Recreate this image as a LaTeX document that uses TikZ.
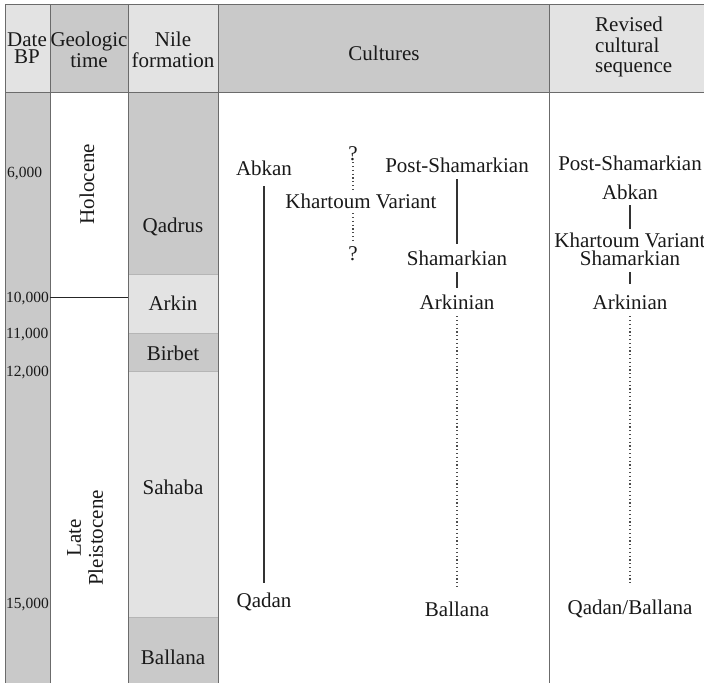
\documentclass[tikz,border=0pt]{standalone}
\usepackage{fontspec}
\setmainfont{Liberation Serif}
\definecolor{darkcell}{gray}{0.79}
\definecolor{lightcell}{gray}{0.89}
\definecolor{rulegray}{gray}{0.42}
\tikzset{
  txt/.style={font=\fontsize{21}{20.5}\selectfont, inner sep=0pt, align=center, text=black!90},
  cult/.style={txt, text height=14pt, text depth=0pt},
  date/.style={font=\fontsize{15.5}{15.5}\selectfont, inner sep=0pt, anchor=base west, text=black!90},
  link/.style={line width=1.1pt, black!80, shorten <=7pt, shorten >=7pt},
  maybe/.style={line width=1.3pt, black!70, dash pattern=on 1.1pt off 2.7pt, shorten <=7pt, shorten >=7pt},
}

\begin{document}
\begin{tikzpicture}[x=1pt, y=-1pt]
\useasboundingbox (0,0) rectangle (704,683);

\fill[lightcell] (5,4) rectangle (50,92);
\fill[darkcell] (50,4) rectangle (128,92);
\fill[lightcell] (128,4) rectangle (218,92);
\fill[darkcell] (218,4) rectangle (549,92);
\fill[lightcell] (549,4) rectangle (704,92);
\fill[darkcell] (5,92) rectangle (50,683);
\fill[darkcell] (128,92) rectangle (218,274);
\fill[lightcell] (128,274) rectangle (218,333);
\fill[darkcell] (128,333) rectangle (218,371);
\fill[lightcell] (128,371) rectangle (218,617);
\fill[darkcell] (128,617) rectangle (218,683);
\draw[rulegray!50] (128,274) -- (218,274);
\draw[rulegray!50] (128,333) -- (218,333);
\draw[rulegray!50] (128,371) -- (218,371);
\draw[rulegray!50] (128,617) -- (218,617);
\draw[rulegray] (5,4) -- (704,4);
\draw[rulegray] (5,92) -- (704,92);
\draw[rulegray] (5,4) -- (5,683);
\draw[rulegray] (50,4) -- (50,683);
\draw[rulegray] (128,4) -- (128,683);
\draw[rulegray] (218,4) -- (218,683);
\draw[rulegray] (549,4) -- (549,683);
\draw[line width=1pt, black!85] (50,297) -- (128,297);

\node[txt, font=\fontsize{21}{17}\selectfont] (hdate) at (27,48) {Date\\BP};
\node[txt] (hgeo) at (89,50) {Geologic\\time};
\node[txt] (hnile) at (173,50) {Nile\\formation};
\node[txt] (hcult) at (384,53) {Cultures};
\node[txt, align=left, anchor=west] (hrev) at (595,47) {Revised\\cultural\\sequence};

\node[date] (d6) at (7,177) {6,000};
\node[date] (d10) at (6,302) {10,000};
\node[date] (d11) at (6,338) {11,000};
\node[date] (d12) at (6,376) {12,000};
\node[date] (d15) at (6,608) {15,000};

\node[txt, rotate=90] (holo) at (87,184) {Holocene};
\node[txt, rotate=90, font=\fontsize{21}{22}\selectfont] (latep) at (85,538) {Late\\Pleistocene};

\node[txt] (qadrus) at (173,227) {Qadrus};
\node[txt] (arkin) at (173,303) {Arkin};
\node[txt] (birbet) at (173,353) {Birbet};
\node[txt] (sahaba) at (173,487) {Sahaba};
\node[txt] (ballanaf) at (173,657) {Ballana};

\node[cult] (abkan) at (264,168) {Abkan};
\node[cult] (qadan) at (264,600) {Qadan};
\node[cult] (qtop) at (353,153) {?};
\node[cult] (khart) at (361,201) {Khartoum Variant};
\node[cult] (qbot) at (353,253) {?};
\node[cult] (postsh) at (457,165) {Post-Shamarkian};
\node[cult] (shamk) at (457,258) {Shamarkian};
\node[cult] (arkn) at (457,302) {Arkinian};
\node[cult] (ballana) at (457,609) {Ballana};
\draw[link, shorten <=11pt, shorten >=10pt] (abkan) -- (qadan);
\draw[maybe, shorten <=2pt, shorten >=4pt] (qtop) -- (qtop |- khart.north);
\draw[maybe, shorten <=5pt, shorten >=4pt] (qtop |- khart.south) -- (qbot);
\draw[link] (postsh) -- (shamk);
\draw[link] (shamk) -- (arkn);
\draw[maybe, shorten >=14pt] (arkn) -- (ballana);

\node[cult] (rpostsh) at (630,163) {Post-Shamarkian};
\node[cult] (rabkan) at (630,192) {Abkan};
\node[cult] (rkhart) at (630,240) {Khartoum Variant};
\node[cult] (rshamk) at (630,258) {Shamarkian};
\node[cult] (rarkn) at (630,302) {Arkinian};
\node[cult] (rqadball) at (630,607) {Qadan/Ballana};
\draw[link, shorten <=6pt, shorten >=4pt] (rabkan) -- (rkhart);
\draw[link, shorten >=11pt] (rshamk) -- (rarkn);
\draw[maybe, shorten >=15pt] (rarkn) -- (rqadball);
\end{tikzpicture}
\end{document}
